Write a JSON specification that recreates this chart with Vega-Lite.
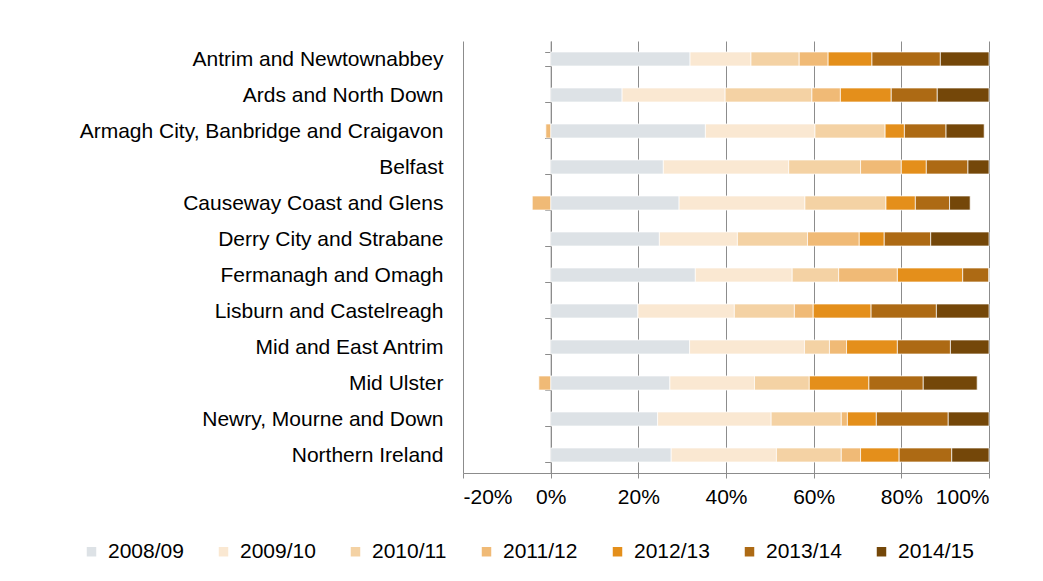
{
  "$schema": "https://vega.github.io/schema/vega-lite/v6.json",
  "width": 526,
  "height": 432,
  "autosize": {"type": "none"},
  "padding": {"left": 463, "top": 41, "right": 54, "bottom": 108},
  "background": "white",
  "config": {
    "font": "Liberation Sans",
    "view": {"stroke": null},
    "axis": {"labelFont": "Liberation Sans", "labelColor": "#000000", "labelFontSize": 21}
  },
  "datasets": {
    "rows": [
      {"area": "Antrim and Newtownabbey", "year": "2008/09", "pct": 31.8},
      {"area": "Antrim and Newtownabbey", "year": "2009/10", "pct": 13.9},
      {"area": "Antrim and Newtownabbey", "year": "2010/11", "pct": 11.0},
      {"area": "Antrim and Newtownabbey", "year": "2011/12", "pct": 6.6},
      {"area": "Antrim and Newtownabbey", "year": "2012/13", "pct": 10.0},
      {"area": "Antrim and Newtownabbey", "year": "2013/14", "pct": 15.6},
      {"area": "Antrim and Newtownabbey", "year": "2014/15", "pct": 11.1},
      {"area": "Ards and North Down", "year": "2008/09", "pct": 16.3},
      {"area": "Ards and North Down", "year": "2009/10", "pct": 23.5},
      {"area": "Ards and North Down", "year": "2010/11", "pct": 19.8},
      {"area": "Ards and North Down", "year": "2011/12", "pct": 6.5},
      {"area": "Ards and North Down", "year": "2012/13", "pct": 11.6},
      {"area": "Ards and North Down", "year": "2013/14", "pct": 10.5},
      {"area": "Ards and North Down", "year": "2014/15", "pct": 11.8},
      {"area": "Armagh City, Banbridge and Craigavon", "year": "2008/09", "pct": 35.3},
      {"area": "Armagh City, Banbridge and Craigavon", "year": "2009/10", "pct": 25.0},
      {"area": "Armagh City, Banbridge and Craigavon", "year": "2010/11", "pct": 16.0},
      {"area": "Armagh City, Banbridge and Craigavon", "year": "2011/12", "pct": -1.1},
      {"area": "Armagh City, Banbridge and Craigavon", "year": "2012/13", "pct": 4.4},
      {"area": "Armagh City, Banbridge and Craigavon", "year": "2013/14", "pct": 9.5},
      {"area": "Armagh City, Banbridge and Craigavon", "year": "2014/15", "pct": 8.7},
      {"area": "Belfast", "year": "2008/09", "pct": 25.7},
      {"area": "Belfast", "year": "2009/10", "pct": 28.6},
      {"area": "Belfast", "year": "2010/11", "pct": 16.4},
      {"area": "Belfast", "year": "2011/12", "pct": 9.3},
      {"area": "Belfast", "year": "2012/13", "pct": 5.7},
      {"area": "Belfast", "year": "2013/14", "pct": 9.5},
      {"area": "Belfast", "year": "2014/15", "pct": 4.8},
      {"area": "Causeway Coast and Glens", "year": "2008/09", "pct": 29.3},
      {"area": "Causeway Coast and Glens", "year": "2009/10", "pct": 28.7},
      {"area": "Causeway Coast and Glens", "year": "2010/11", "pct": 18.5},
      {"area": "Causeway Coast and Glens", "year": "2011/12", "pct": -4.2},
      {"area": "Causeway Coast and Glens", "year": "2012/13", "pct": 6.7},
      {"area": "Causeway Coast and Glens", "year": "2013/14", "pct": 7.8},
      {"area": "Causeway Coast and Glens", "year": "2014/15", "pct": 4.7},
      {"area": "Derry City and Strabane", "year": "2008/09", "pct": 24.8},
      {"area": "Derry City and Strabane", "year": "2009/10", "pct": 17.8},
      {"area": "Derry City and Strabane", "year": "2010/11", "pct": 16.0},
      {"area": "Derry City and Strabane", "year": "2011/12", "pct": 11.8},
      {"area": "Derry City and Strabane", "year": "2012/13", "pct": 5.7},
      {"area": "Derry City and Strabane", "year": "2013/14", "pct": 10.6},
      {"area": "Derry City and Strabane", "year": "2014/15", "pct": 13.3},
      {"area": "Fermanagh and Omagh", "year": "2008/09", "pct": 33.0},
      {"area": "Fermanagh and Omagh", "year": "2009/10", "pct": 22.1},
      {"area": "Fermanagh and Omagh", "year": "2010/11", "pct": 10.6},
      {"area": "Fermanagh and Omagh", "year": "2011/12", "pct": 13.4},
      {"area": "Fermanagh and Omagh", "year": "2012/13", "pct": 14.9},
      {"area": "Fermanagh and Omagh", "year": "2013/14", "pct": 6.0},
      {"area": "Fermanagh and Omagh", "year": "2014/15", "pct": 0.0},
      {"area": "Lisburn and Castelreagh", "year": "2008/09", "pct": 19.9},
      {"area": "Lisburn and Castelreagh", "year": "2009/10", "pct": 22.0},
      {"area": "Lisburn and Castelreagh", "year": "2010/11", "pct": 13.7},
      {"area": "Lisburn and Castelreagh", "year": "2011/12", "pct": 4.3},
      {"area": "Lisburn and Castelreagh", "year": "2012/13", "pct": 13.2},
      {"area": "Lisburn and Castelreagh", "year": "2013/14", "pct": 14.9},
      {"area": "Lisburn and Castelreagh", "year": "2014/15", "pct": 12.0},
      {"area": "Mid and East Antrim", "year": "2008/09", "pct": 31.7},
      {"area": "Mid and East Antrim", "year": "2009/10", "pct": 26.2},
      {"area": "Mid and East Antrim", "year": "2010/11", "pct": 5.7},
      {"area": "Mid and East Antrim", "year": "2011/12", "pct": 3.9},
      {"area": "Mid and East Antrim", "year": "2012/13", "pct": 11.6},
      {"area": "Mid and East Antrim", "year": "2013/14", "pct": 12.1},
      {"area": "Mid and East Antrim", "year": "2014/15", "pct": 8.8},
      {"area": "Mid Ulster", "year": "2008/09", "pct": 27.2},
      {"area": "Mid Ulster", "year": "2009/10", "pct": 19.3},
      {"area": "Mid Ulster", "year": "2010/11", "pct": 12.5},
      {"area": "Mid Ulster", "year": "2011/12", "pct": -2.7},
      {"area": "Mid Ulster", "year": "2012/13", "pct": 13.6},
      {"area": "Mid Ulster", "year": "2013/14", "pct": 12.4},
      {"area": "Mid Ulster", "year": "2014/15", "pct": 12.3},
      {"area": "Newry, Mourne and Down", "year": "2008/09", "pct": 24.4},
      {"area": "Newry, Mourne and Down", "year": "2009/10", "pct": 25.9},
      {"area": "Newry, Mourne and Down", "year": "2010/11", "pct": 16.0},
      {"area": "Newry, Mourne and Down", "year": "2011/12", "pct": 1.4},
      {"area": "Newry, Mourne and Down", "year": "2012/13", "pct": 6.6},
      {"area": "Newry, Mourne and Down", "year": "2013/14", "pct": 16.4},
      {"area": "Newry, Mourne and Down", "year": "2014/15", "pct": 9.3},
      {"area": "Northern Ireland", "year": "2008/09", "pct": 27.5},
      {"area": "Northern Ireland", "year": "2009/10", "pct": 24.0},
      {"area": "Northern Ireland", "year": "2010/11", "pct": 14.8},
      {"area": "Northern Ireland", "year": "2011/12", "pct": 4.4},
      {"area": "Northern Ireland", "year": "2012/13", "pct": 8.8},
      {"area": "Northern Ireland", "year": "2013/14", "pct": 12.0},
      {"area": "Northern Ireland", "year": "2014/15", "pct": 8.5}
    ]
  },
  "data": {"name": "rows"},
  "mark": {"type": "bar", "stroke": "white", "strokeWidth": 0.7},
  "encoding": {
    "y": {
      "field": "area",
      "type": "nominal",
      "sort": null,
      "title": null,
      "scale": {"paddingInner": 0.61, "paddingOuter": 0.305},
      "axis": {
        "offset": -87.67,
        "domainColor": "#8c8c8c",
        "domainWidth": 1,
        "tickColor": "#8c8c8c",
        "tickSize": 6,
        "tickBand": "extent",
        "labelPadding": 101.7,
        "labelFontSize": 21,
        "labelColor": "#000000",
        "labelLimit": 600,
        "grid": false
      }
    },
    "x": {
      "field": "pct",
      "type": "quantitative",
      "stack": "zero",
      "title": null,
      "scale": {"domain": [-20, 100], "nice": false},
      "axis": {
        "values": [-20, 0, 20, 40, 60, 80, 100],
        "labelExpr": "datum.value + '%'",
        "grid": true,
        "gridColor": "#8c8c8c",
        "gridWidth": 1,
        "domainColor": "#8c8c8c",
        "tickColor": "#8c8c8c",
        "tickSize": 5,
        "labelPadding": 8,
        "labelFontSize": 21,
        "labelColor": "#000000"
      }
    },
    "color": {
      "field": "year",
      "type": "nominal",
      "title": null,
      "scale": {
        "domain": ["2008/09", "2009/10", "2010/11", "2011/12", "2012/13", "2013/14", "2014/15"],
        "range": ["#DDE2E6", "#FAE8D2", "#F4D2A4", "#F0BA76", "#E48F1B", "#AD6A14", "#744709"]
      },
      "legend": {
        "orient": "none",
        "direction": "horizontal",
        "columns": 7,
        "legendX": -382,
        "legendY": 500,
        "padding": 0,
        "symbolType": "square",
        "symbolSize": 90,
        "symbolStrokeWidth": 0,
        "labelOffset": 6,
        "columnPadding": 29,
        "labelFontSize": 21,
        "labelFont": "Liberation Sans",
        "labelColor": "#000000"
      }
    },
    "order": {"field": "year", "type": "ordinal", "sort": "ascending"}
  }
}
